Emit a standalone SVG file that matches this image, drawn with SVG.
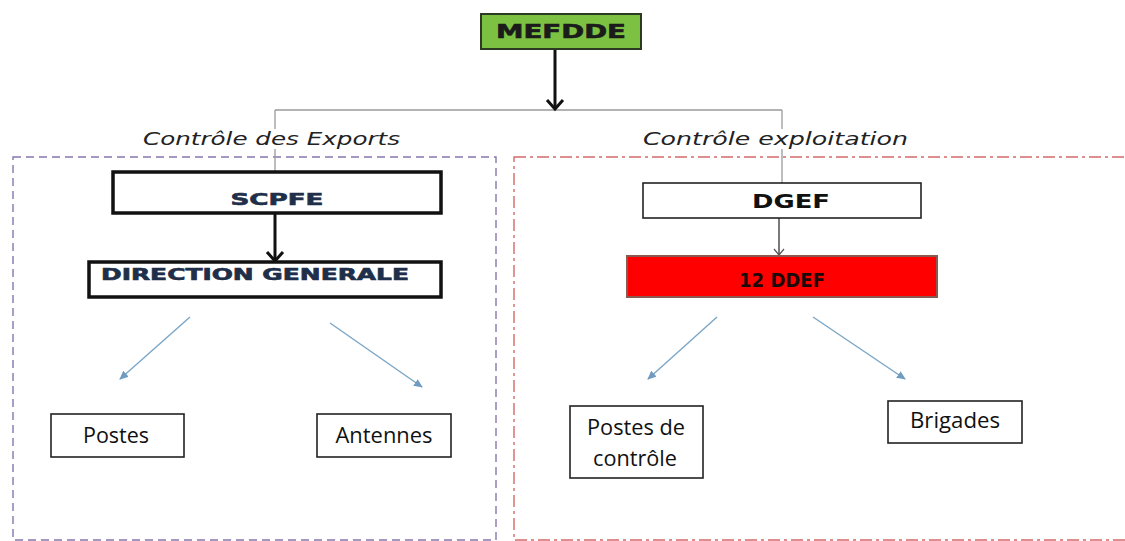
<svg xmlns="http://www.w3.org/2000/svg" width="1125" height="541" viewBox="0 0 1125 541">
<style>
  .bg{fill:#ffffff}
  .hdr{font-family:"DejaVu Sans","Liberation Sans",sans-serif;font-weight:bold;text-anchor:middle;stroke-width:0.6}
  .lbl{font-family:"DejaVu Sans","Liberation Sans",sans-serif;font-style:italic;font-size:17px;fill:#222;text-anchor:middle}
  .leaf{font-family:"Open Sans","Liberation Sans",sans-serif;font-size:21.5px;fill:#111;text-anchor:middle}
  .thick{fill:#fff;stroke:#111;stroke-width:3.5}
  .thin{fill:#fff;stroke:#222;stroke-width:1.6}
  .gray{stroke:#9a9a9a;stroke-width:1.3;fill:none}
  .blk{stroke:#111;stroke-width:3;fill:none}
  .blue{stroke:#7ba6c6;stroke-width:1.4;fill:none}
</style>
<defs>
  <marker id="bh" markerWidth="10" markerHeight="10" refX="8" refY="4" orient="auto" markerUnits="userSpaceOnUse">
    <path d="M0,0 L9,4 L0,8 Z" fill="#6f9cc0"/>
  </marker>
</defs>
<rect class="bg" x="0" y="0" width="1125" height="541"/>

<g id="regions">
  <rect x="13" y="157" width="483" height="383" fill="none" stroke="#8676ad" stroke-width="1.4" stroke-dasharray="8 5"/>
  <rect x="514" y="157" width="620" height="383" fill="none" stroke="#d46a6a" stroke-width="1.4" stroke-dasharray="12 4 3 4"/>
</g>

<g id="connectors">
  <path class="gray" d="M275,110 H782"/>
  <path class="gray" d="M275,110 V129 M275,149 V172"/>
  <path class="gray" d="M782,110 V129 M782,149 V183"/>
  <path class="blk" d="M555,49 V109"/>
  <path class="blk" d="M547,100 L555,109 L563,100"/>
  <path class="blk" d="M275,213 V261"/>
  <path class="blk" d="M267,252 L275,261 L283,252"/>
  <path d="M779,218 V255" stroke="#333" stroke-width="1.3" fill="none"/>
  <path d="M774,249 L779,255 L784,249" stroke="#555" stroke-width="1.2" fill="none"/>
  <line class="blue" x1="190" y1="317" x2="120" y2="379" marker-end="url(#bh)"/>
  <line class="blue" x1="330" y1="323" x2="422" y2="387" marker-end="url(#bh)"/>
  <line class="blue" x1="717" y1="317" x2="648" y2="379" marker-end="url(#bh)"/>
  <line class="blue" x1="813" y1="317" x2="905" y2="379" marker-end="url(#bh)"/>
</g>

<g id="labels">
  <text class="lbl" x="271.5" y="145" textLength="257" lengthAdjust="spacingAndGlyphs">Contrôle des Exports</text>
  <text class="lbl" x="775.5" y="145" textLength="265" lengthAdjust="spacingAndGlyphs">Contrôle exploitation</text>
</g>

<g id="MEFDDE">
  <rect x="481" y="14" width="160" height="35" fill="#7cc142" stroke="#2c3a24" stroke-width="2"/>
  <text class="hdr" x="561" y="38" font-size="19" fill="#1b1b1b" stroke="#1b1b1b" textLength="130" lengthAdjust="spacingAndGlyphs">MEFDDE</text>
</g>

<g id="SCPFE">
  <rect class="thick" x="113" y="172" width="328" height="41"/>
  <text class="hdr" x="277" y="205" font-size="16" fill="#1f2f4a" stroke="#1f2f4a" textLength="93" lengthAdjust="spacingAndGlyphs">SCPFE</text>
</g>

<g id="DG">
  <rect class="thick" x="89" y="262" width="352" height="35"/>
  <text class="hdr" x="255" y="280" font-size="15" fill="#1f2f4a" stroke="#1f2f4a" textLength="308" lengthAdjust="spacingAndGlyphs">DIRECTION GENERALE</text>
</g>

<g id="DGEF">
  <rect class="thin" x="643" y="183" width="278" height="35"/>
  <text class="hdr" x="791" y="208" font-size="19" fill="#111" textLength="78" lengthAdjust="spacingAndGlyphs">DGEF</text>
</g>

<g id="DDEF">
  <rect x="627" y="256" width="310" height="41" fill="#fe0000" stroke="#8a5a50" stroke-width="2"/>
  <text class="hdr" x="782" y="287" font-size="19" fill="#1a0a0a" textLength="86" lengthAdjust="spacingAndGlyphs">12 DDEF</text>
</g>

<g id="Postes">
  <rect class="thin" x="51" y="414" width="133" height="43"/>
  <text class="leaf" x="116" y="443" textLength="66" lengthAdjust="spacingAndGlyphs">Postes</text>
</g>

<g id="Antennes">
  <rect class="thin" x="317" y="414" width="134" height="43"/>
  <text class="leaf" x="384" y="443" textLength="97" lengthAdjust="spacingAndGlyphs">Antennes</text>
</g>

<g id="PostesControle">
  <rect class="thin" x="570" y="406" width="133" height="72"/>
  <text class="leaf" x="636" y="435" textLength="98" lengthAdjust="spacingAndGlyphs">Postes de</text>
  <text class="leaf" x="635" y="466" textLength="84" lengthAdjust="spacingAndGlyphs">contrôle</text>
</g>

<g id="Brigades">
  <rect class="thin" x="888" y="401" width="134" height="42"/>
  <text class="leaf" x="955" y="428" textLength="90" lengthAdjust="spacingAndGlyphs">Brigades</text>
</g>
</svg>
